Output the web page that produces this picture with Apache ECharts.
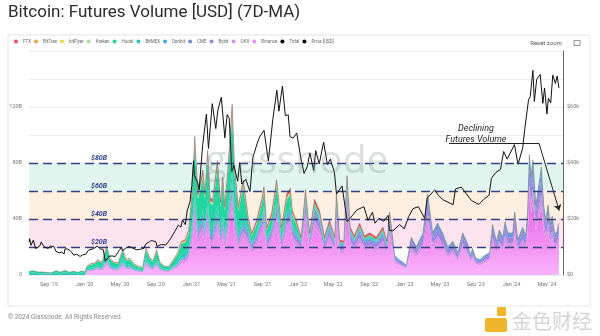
<!DOCTYPE html>
<html><head><meta charset="utf-8">
<script src="https://cdn.jsdelivr.net/npm/echarts@6/dist/echarts.min.js"></script>
<style>html,body{margin:0;padding:0;background:#fff}#c{width:600px;height:336px}</style>
</head><body><div id="c"></div>
<script>
// ---------- data (volumes in $B, price in $k) ----------
const dates = ['2019-06-25','2019-07-10','2019-07-25','2019-08-10','2019-08-25','2019-09-10','2019-09-26','2019-10-10','2019-10-27','2019-11-10','2019-11-25','2019-12-10','2019-12-20','2020-01-03',
'2020-01-08','2020-01-20','2020-02-05','2020-02-15','2020-03-01','2020-03-17','2020-03-28','2020-04-10','2020-04-25','2020-05-11','2020-05-22','2020-06-03','2020-06-18','2020-07-05','2020-07-18','2020-07-29','2020-08-10','2020-08-22','2020-09-04','2020-09-15','2020-10-01','2020-10-15','2020-10-28','2020-11-15','2020-11-27','2020-12-10','2020-12-22',
'2021-01-04','2021-01-12','2021-01-23','2021-02-09','2021-02-16','2021-02-25','2021-03-06','2021-03-14','2021-03-31','2021-04-10','2021-04-18','2021-04-25','2021-05-05','2021-05-20','2021-05-28','2021-06-10','2021-06-27',
'2021-07-14','2021-07-26','2021-08-12','2021-08-29','2021-09-06','2021-09-15','2021-10-02','2021-10-19','2021-11-05','2021-11-23','2021-12-05','2021-12-12','2021-12-25',
'2022-01-11','2022-01-26','2022-02-09','2022-02-26','2022-03-15','2022-04-01','2022-04-18','2022-05-06','2022-05-12','2022-05-23','2022-06-06','2022-06-17','2022-06-28','2022-07-12','2022-07-30','2022-08-16','2022-09-03','2022-09-25','2022-10-18','2022-11-01','2022-11-10',
'2022-11-27','2022-12-12','2022-12-26','2023-01-06','2023-01-23','2023-02-09','2023-03-04','2023-03-20','2023-04-06','2023-04-23','2023-05-10','2023-05-28','2023-06-14','2023-07-01','2023-07-18','2023-08-04','2023-08-14','2023-08-20','2023-09-01','2023-09-15','2023-10-01','2023-10-18','2023-10-28','2023-11-10','2023-11-20','2023-12-02','2023-12-10','2023-12-19','2024-01-05','2024-01-12','2024-01-22','2024-02-08','2024-02-19','2024-02-25','2024-03-02','2024-03-08','2024-03-14','2024-03-24','2024-04-02','2024-04-12','2024-04-20','2024-04-27','2024-05-05','2024-05-12','2024-05-19','2024-05-27','2024-06-03','2024-06-11'];

const binance = [0,0,0,0,0,0,0,0,0,0,0,0,0,0,
2.1,2.8,3.0,3.9,3.2,7.4,4.2,3.2,3.0,6.5,3.9,4.2,2.8,2.1,1.9,6.7,4.6,3.5,6.3,3.2,2.3,2.1,3.5,5.6,8.4,8.8,11.2,
23.6,37.6,22.0,28.5,22.0,33.8,20.9,20.5,31.2,19.8,26.6,18.6,28.5,46.4,29.6,18.6,25.8,
21.3,15.6,20.3,28.1,32.8,17.7,22.9,35.4,17.7,30.2,32.2,23.9,20.3,
16.7,37.8,18.6,33.5,28.5,16.7,24.2,16.7,36.6,15.5,14.9,44.0,21.1,17.4,22.9,17.4,18.6,16.7,21.1,14.9,27.9,
8.8,6.9,5.7,4.4,17.0,12.6,18.9,36.5,18.9,23.3,18.9,12.6,15.1,10.1,18.9,13.9,8.8,12.0,7.6,6.9,8.8,10.1,22.7,15.1,20.2,17.0,23.9,18.9,18.9,28.4,15.8,21.4,17.6,29.0,54.2,44.1,51.7,31.5,39.1,48.5,31.5,24.6,31.5,22.7,26.5,18.9,18.9,23.3];
const okx = [0,0,0,0,0,0,0,0,0,0,0,0,0,0,
0.5,0.6,0.7,0.9,0.7,1.7,1.0,0.7,0.7,1.5,0.9,1.0,0.6,0.5,0.4,1.5,1.0,0.8,1.4,0.7,0.5,0.5,0.8,1.3,1.9,2.0,2.6,
5.0,7.9,4.6,6.0,4.6,7.1,4.4,4.3,6.6,4.2,5.6,3.9,6.0,9.8,6.2,3.9,5.4,
4.1,3.0,3.9,5.4,6.3,3.4,4.4,6.8,3.4,5.8,6.2,4.6,3.9,
2.7,6.1,3.0,5.4,4.6,2.7,3.9,2.7,5.9,2.5,2.4,7.1,3.4,2.8,3.7,2.8,3.0,2.7,3.4,2.4,4.5,
1.7,1.3,1.1,0.8,3.2,2.4,3.6,7.0,3.6,4.4,3.6,2.4,2.9,1.9,3.6,2.6,1.7,2.3,1.4,1.3,1.7,1.9,4.3,2.9,3.8,3.2,4.6,3.6,3.6,5.4,3.0,4.1,3.4,5.5,10.3,8.4,9.8,6.0,7.4,9.2,6.0,4.7,6.0,4.3,5.0,3.6,3.6,4.4];
const bybit = [0,0,0,0,0,0,0,0,0,0,0,0,0,0,
0.2,0.2,0.3,0.3,0.3,0.6,0.4,0.3,0.3,0.6,0.3,0.4,0.2,0.2,0.2,0.6,0.4,0.3,0.5,0.3,0.2,0.2,0.3,0.5,0.7,0.8,1.0,
2.5,4.0,2.3,3.0,2.3,3.6,2.2,2.2,3.3,2.1,2.8,2.0,3.0,4.9,3.1,2.0,2.7,
2.5,1.8,2.3,3.2,3.8,2.0,2.6,4.1,2.0,3.5,3.7,2.8,2.3,
2.4,5.5,2.7,4.9,4.1,2.4,3.5,2.4,5.3,2.3,2.2,6.4,3.1,2.5,3.3,2.5,2.7,2.4,3.1,2.2,4.1,
2.0,1.5,1.3,1.0,3.8,2.8,4.2,8.1,4.2,5.2,4.2,2.8,3.4,2.2,4.2,3.1,2.0,2.7,1.7,1.5,2.0,2.2,5.0,3.4,4.5,3.8,5.3,4.2,4.2,6.3,3.5,4.8,3.9,6.4,12.0,9.8,11.5,7.0,8.7,10.8,7.0,5.5,7.0,5.0,5.9,4.2,4.2,5.2];
const cme = [0,0,0,0,0,0,0,0,0,0,0,0,0,0,
0.1,0.2,0.2,0.2,0.2,0.4,0.2,0.2,0.2,0.4,0.2,0.2,0.2,0.1,0.1,0.4,0.3,0.2,0.4,0.2,0.1,0.1,0.2,0.3,0.5,0.5,0.6,
1.2,2.0,1.2,1.5,1.2,1.8,1.1,1.1,1.6,1.0,1.4,1.0,1.5,2.4,1.6,1.0,1.4,
1.2,0.9,1.2,1.6,1.9,1.0,1.3,2.0,1.0,1.7,1.9,1.4,1.2,
1.1,2.4,1.2,2.2,1.8,1.1,1.6,1.1,2.4,1.0,1.0,2.8,1.4,1.1,1.5,1.1,1.2,1.1,1.4,1.0,1.8,
1.1,0.9,0.7,0.6,2.2,1.6,2.4,4.6,2.4,3.0,2.4,1.6,1.9,1.3,2.4,1.8,1.1,1.5,1.0,0.9,1.1,1.3,2.9,1.9,2.6,2.2,3.0,2.4,2.4,3.6,2.0,2.7,2.2,3.7,6.9,5.6,6.6,4.0,5.0,6.2,4.0,3.1,4.0,2.9,3.4,2.4,2.4,3.0];
const deribit = [0,0,0,0,0,0,0,0,0,0,0,0,0,0,
0.2,0.2,0.3,0.3,0.3,0.6,0.4,0.3,0.3,0.6,0.3,0.4,0.2,0.2,0.2,0.6,0.4,0.3,0.5,0.3,0.2,0.2,0.3,0.5,0.7,0.8,1.0,
1.9,3.0,1.7,2.3,1.7,2.7,1.7,1.6,2.5,1.6,2.1,1.5,2.3,3.7,2.3,1.5,2.0,
1.2,0.9,1.2,1.6,1.9,1.0,1.3,2.0,1.0,1.7,1.9,1.4,1.2,
0.8,1.8,0.9,1.6,1.4,0.8,1.2,0.8,1.8,0.8,0.7,2.1,1.0,0.8,1.1,0.8,0.9,0.8,1.0,0.7,1.4,
0.4,0.3,0.3,0.2,0.8,0.6,0.9,1.7,0.9,1.1,0.9,0.6,0.7,0.5,0.9,0.7,0.4,0.6,0.4,0.3,0.4,0.5,1.1,0.7,1.0,0.8,1.1,0.9,0.9,1.4,0.8,1.0,0.8,1.4,2.6,2.1,2.5,1.5,1.9,2.3,1.5,1.2,1.5,1.1,1.3,0.9,0.9,1.1];
const bitmex = [1.5,1.8,1.3,1.3,1.1,1.0,1.8,1.2,1.9,1.2,1.6,1.1,1.7,1.3,
0.7,1.0,1.0,1.3,1.1,2.5,1.4,1.1,1.0,2.2,1.3,1.4,1.0,0.7,0.7,2.3,1.6,1.2,2.2,1.1,0.8,0.7,1.2,1.9,2.9,3.0,3.8,
3.7,5.9,3.5,4.5,3.5,5.3,3.3,3.2,4.9,3.1,4.2,2.9,4.5,7.3,4.7,2.9,4.1,
1.6,1.2,1.6,2.2,2.5,1.4,1.8,2.7,1.4,2.3,2.5,1.8,1.6,
0.5,1.2,0.6,1.1,0.9,0.5,0.8,0.5,1.2,0.5,0.5,1.4,0.7,0.6,0.7,0.6,0.6,0.5,0.7,0.5,0.9,
0,0,0,0,0,0,0,0,0,0,0,0,0,0,0,0,0,0,0,0,0,0,0,0,0,0,0,0,0,0,0,0,0,0,0,0,0,0,0,0,0,0,0,0,0,0,0,0];
const huobi = [1.0,1.2,0.9,0.9,0.7,0.6,1.2,0.8,1.3,0.8,1.0,0.7,1.1,0.9,
1.8,2.4,2.5,3.3,2.7,6.3,3.6,2.7,2.5,5.5,3.3,3.6,2.4,1.8,1.7,5.7,3.9,3.0,5.4,2.7,2.0,1.8,3.0,4.8,7.2,7.5,9.6,
19.8,31.7,18.6,24.0,18.6,28.5,17.6,17.3,26.2,16.6,22.4,15.7,24.0,39.0,25.0,15.7,21.8,
6.2,4.5,5.9,8.1,9.5,5.1,6.6,10.2,5.1,8.7,9.3,6.9,5.9,
1.1,2.4,1.2,2.2,1.8,1.1,1.6,1.1,2.4,1.0,1.0,2.8,1.4,1.1,1.5,1.1,1.2,1.1,1.4,1.0,1.8,
0,0,0,0,0,0,0,0,0,0,0,0,0,0,0,0,0,0,0,0,0,0,0,0,0,0,0,0,0,0,0,0,0,0,0,0,0,0,0,0,0,0,0,0,0,0,0,0];
const kraken = [0,0,0,0,0,0,0,0,0,0,0,0,0,0,
0.1,0.1,0.1,0.1,0.1,0.2,0.1,0.1,0.1,0.2,0.1,0.1,0.1,0.1,0.1,0.2,0.1,0.1,0.2,0.1,0.1,0.1,0.1,0.2,0.2,0.3,0.3,
0.6,1.0,0.6,0.8,0.6,0.9,0.6,0.5,0.8,0.5,0.7,0.5,0.8,1.2,0.8,0.5,0.7,
0.4,0.3,0.4,0.5,0.6,0.3,0.4,0.7,0.3,0.6,0.6,0.5,0.4,
0.1,0.3,0.2,0.3,0.2,0.1,0.2,0.1,0.3,0.1,0.1,0.4,0.2,0.1,0.2,0.1,0.2,0.1,0.2,0.1,0.2,
0,0,0,0,0,0,0,0,0,0,0,0,0,0,0,0,0,0,0,0,0,0,0,0,0,0,0,0,0,0,0,0,0,0,0,0,0,0,0,0,0,0,0,0,0,0,0,0];
const bitflyer = [0,0,0,0,0,0,0,0,0,0,0,0,0,0,
0.2,0.2,0.3,0.3,0.3,0.6,0.4,0.3,0.3,0.5,0.3,0.4,0.2,0.2,0.1,0.5,0.3,0.3,0.5,0.2,0.1,0.1,0.3,0.5,0.7,0.7,1.0,
0.6,1.0,0.6,0.8,0.6,0.9,0.6,0.5,0.8,0.5,0.7,0.5,0.8,1.2,0.8,0.5,0.7,
0.4,0.3,0.4,0.5,0.6,0.3,0.4,0.7,0.3,0.6,0.6,0.5,0.4,
0.1,0.3,0.2,0.3,0.2,0.1,0.2,0.1,0.3,0.1,0.1,0.4,0.2,0.1,0.2,0.1,0.2,0.1,0.2,0.1,0.2,
0,0,0,0,0,0,0,0,0,0,0,0,0,0,0,0,0,0,0,0,0,0,0,0,0,0,0,0,0,0,0,0,0,0,0,0,0,0,0,0,0,0,0,0,0,0,0,0];
const bittrex = [0,0,0,0,0,0,0,0,0,0,0,0,0,0,
0.1,0.1,0.1,0.1,0.1,0.2,0.1,0.1,0.1,0.2,0.1,0.1,0.1,0.1,0.1,0.2,0.1,0.1,0.2,0.1,0.1,0.1,0.1,0.2,0.2,0.3,0.3,
0.6,1.0,0.6,0.8,0.6,0.9,0.6,0.5,0.8,0.5,0.7,0.5,0.8,1.2,0.8,0.5,0.7,
0.4,0.3,0.4,0.5,0.6,0.3,0.4,0.7,0.3,0.6,0.6,0.5,0.4,
0,0,0,0,0,0,0,0,0,0,0,0,0,0,0,0,0,0,0,0,0,
0,0,0,0,0,0,0,0,0,0,0,0,0,0,0,0,0,0,0,0,0,0,0,0,0,0,0,0,0,0,0,0,0,0,0,0,0,0,0,0,0,0,0,0,0,0,0,0];
const ftx = [0,0,0,0,0,0,0,0,0,0,0,0,0,0,
0.1,0.2,0.2,0.2,0.2,0.4,0.2,0.2,0.2,0.4,0.2,0.2,0.2,0.1,0.1,0.4,0.3,0.2,0.4,0.1,0.1,0.1,0.2,0.3,0.5,0.5,0.6,
2.5,4.0,2.3,3.0,2.3,3.6,2.2,2.2,3.3,2.1,2.8,2.0,3.0,4.9,3.1,2.0,2.7,
1.6,1.2,1.6,2.2,2.5,1.4,1.8,2.7,1.4,2.3,2.5,1.8,1.6,
1.4,3.1,1.5,2.7,2.3,1.4,2.0,1.4,3.0,1.3,1.2,3.6,1.7,1.4,1.9,1.4,1.5,1.4,1.7,1.2,2.3,
0,0,0,0,0,0,0,0,0,0,0,0,0,0,0,0,0,0,0,0,0,0,0,0,0,0,0,0,0,0,0,0,0,0,0,0,0,0,0,0,0,0,0,0,0,0,0,0];
const total = [2.5,3,2.2,2.2,1.8,1.6,3,2,3.2,2,2.6,1.8,2.8,2.2,
6,8,8.5,11,9,21,12,9,8.5,18.5,11,12,8,6,5.5,19,13,10,18,9,6.5,6,10,16,24,25,32,
62,99,58,75,58,89,55,54,82,52,70,49,75,122,78,49,68,
41,30,39,54,63,34,44,68,34,58,62,46,39,
27,61,30,54,46,27,39,27,59,25,24,71,34,28,37,28,30,27,34,24,45,
14,11,9,7,27,20,30,58,30,37,30,20,24,16,30,22,14,19,12,11,14,16,36,24,32,27,38,30,30,45,25,34,28,46,86,70,82,50,62,77,50,39,50,36,42,30,30,37];

const priceDates = ['2019-06-25','2019-06-27','2019-07-02','2019-07-10','2019-07-17','2019-07-24','2019-08-01','2019-08-06','2019-08-15','2019-08-21','2019-08-29','2019-09-06','2019-09-18','2019-09-25','2019-10-06','2019-10-15','2019-10-23','2019-10-26','2019-11-05','2019-11-15','2019-11-25','2019-12-05','2019-12-17','2019-12-25',
'2020-01-05','2020-01-14','2020-01-20','2020-02-01','2020-02-13','2020-02-25','2020-03-05','2020-03-12','2020-03-16','2020-03-25','2020-04-05','2020-04-15','2020-04-29','2020-05-07','2020-05-10','2020-05-20','2020-06-01','2020-06-10','2020-06-27','2020-07-10','2020-07-22','2020-07-28','2020-08-10','2020-08-17','2020-09-01','2020-09-05','2020-09-20','2020-10-05','2020-10-21','2020-11-05','2020-11-17','2020-11-26','2020-12-01','2020-12-11','2020-12-17','2020-12-27',
'2021-01-02','2021-01-08','2021-01-11','2021-01-22','2021-01-27','2021-02-08','2021-02-21','2021-02-28','2021-03-13','2021-03-25','2021-04-01','2021-04-13','2021-04-25','2021-05-03','2021-05-10','2021-05-19','2021-05-26','2021-06-08','2021-06-15','2021-06-22','2021-07-06','2021-07-20','2021-07-30','2021-08-14','2021-08-22','2021-09-06','2021-09-21','2021-10-06','2021-10-20','2021-10-27','2021-11-08','2021-11-18','2021-11-28','2021-12-04','2021-12-15','2021-12-27',
'2022-01-10','2022-01-21','2022-02-01','2022-02-10','2022-02-23','2022-03-02','2022-03-14','2022-03-29','2022-04-11','2022-04-21','2022-05-05','2022-05-12','2022-05-31','2022-06-13','2022-06-18','2022-07-08','2022-07-20','2022-08-14','2022-08-28','2022-09-12','2022-09-21','2022-10-05','2022-10-20','2022-11-05','2022-11-09','2022-11-21','2022-12-14','2022-12-30',
'2023-01-14','2023-01-29','2023-02-16','2023-03-10','2023-03-18','2023-04-13','2023-04-26','2023-05-11','2023-06-15','2023-06-23','2023-07-13','2023-07-28','2023-08-17','2023-09-11','2023-09-28','2023-10-16','2023-10-24','2023-11-09','2023-11-24','2023-12-05','2023-12-17',
'2024-01-11','2024-01-23','2024-02-08','2024-02-15','2024-02-28','2024-03-05','2024-03-14','2024-03-19','2024-03-27','2024-04-08','2024-04-17','2024-04-23','2024-05-01','2024-05-06','2024-05-14','2024-05-21','2024-05-30','2024-06-05','2024-06-11'];
const priceValues = [11.8,13.0,10.6,12.5,9.5,9.8,10.4,11.8,10.1,10.1,9.5,10.3,10.2,8.5,7.9,8.2,7.5,9.3,9.3,8.5,7.1,7.4,6.6,7.2,
7.4,8.8,8.6,9.4,10.3,9.3,9.1,4.9,5.0,6.7,6.8,6.6,8.8,9.9,8.7,9.5,10.2,9.8,9.0,9.2,9.5,11.0,11.9,12.3,11.9,10.2,10.9,10.7,12.9,15.6,17.8,17.1,19.7,18.0,22.8,26.3,
32.0,40.8,35.5,33.0,30.4,46.2,57.5,45.2,61.2,52.3,58.8,63.5,49.0,57.3,56.0,37.0,39.2,33.5,40.1,32.5,34.2,29.8,42.0,47.1,49.3,51.7,40.7,55.4,66.0,58.5,67.5,56.9,57.2,49.4,48.9,50.7,
41.8,36.3,38.7,43.6,37.3,44.4,39.7,47.4,39.5,41.4,36.6,28.9,31.8,22.5,19.0,21.6,23.2,24.4,19.5,22.4,18.5,20.3,19.1,21.3,15.9,15.8,18.0,16.5,
20.9,23.7,24.4,20.2,27.4,30.4,28.4,26.9,25.1,30.7,31.4,29.3,26.6,25.2,27.0,28.5,34.5,36.7,37.7,44.1,41.4,
46.6,39.5,45.3,52.0,62.5,63.8,73.1,62.0,69.9,71.6,61.3,66.8,57.5,63.1,61.5,71.4,68.4,71.1,66.8];

const xTickDates = ['2019-09-01','2020-01-01','2020-05-01','2020-09-01','2021-01-01','2021-05-01','2021-09-01','2022-01-01','2022-05-01','2022-09-01','2023-01-01','2023-05-01','2023-09-01','2024-01-01','2024-05-01'];
const xTickLabels = ["Sep '19","Jan '20","May '20","Sep '20","Jan '21","May '21","Sep '21","Jan '22","May '22","Sep '22","Jan '23","May '23","Sep '23","Jan '24","May '24"];
const xRange = ['2019-06-25','2024-06-25'];
const levelValues = [80,60,40,20];
const levelLabels = ['$80B','$60B','$40B','$20B'];
const annotation = {start:['2023-06-01',94], corner:['2024-04-04',94], end:['2024-06-12',46]};

// ---------- chart ----------
const T = s => Date.parse(s + 'T00:00:00Z');
const tickVals = xTickDates.map(T);
const pair = arr => dates.map((d,i)=>[T(d),arr[i]]);

const stackDefs = [
  ['Binance', binance, '#ee92ef'],
  ['OKX', okx, '#dc8fe8'],
  ['Bybit', bybit, '#9a86e2'],
  ['CME', cme, '#6f8fd8'],
  ['Deribit', deribit, '#45aed8'],
  ['BitMEX', bitmex, '#2ec9bd'],
  ['Huobi', huobi, '#22d6a0'],
  ['Kraken', kraken, '#a9e6a0'],
  ['bitFlyer', bitflyer, '#f2d24c'],
  ['BitTrex', bittrex, '#f5a34f'],
  ['FTX', ftx, '#e8505a']
];

const series = [];
series.push({
  type:'line', name:'bands', data:[[T(dates[0]),0]], symbol:'none', lineStyle:{width:0}, z:1, silent:true,
  markArea:{silent:true, data:[
    [{yAxis:levelValues[3], itemStyle:{color:'#fde3ee'}},{yAxis:levelValues[2]}],
    [{yAxis:levelValues[2], itemStyle:{color:'#fdf0e1'}},{yAxis:levelValues[1]}],
    [{yAxis:levelValues[1], itemStyle:{color:'#e1f5ef'}},{yAxis:levelValues[0]}]
  ]}
});
stackDefs.forEach(([name,arr,color])=>{
  const s = {type:'line', name, data:pair(arr), stack:'vol', symbol:'none', showSymbol:false,
    lineStyle:{width:0}, itemStyle:{color}, areaStyle:{color, opacity:1}, z:2, silent:true};
  if (name==='Binance') {
    s.areaStyle = {opacity:1, color:new echarts.graphic.LinearGradient(0,0,0,1,[{offset:0,color:'#e565e8'},{offset:0.55,color:'#f08cf1'},{offset:1,color:'#fab4fa'}])};
  }
  series.push(s);
});
series.push({type:'line', name:'Total', data:pair(total), symbol:'none', lineStyle:{width:0.6,color:'#666',opacity:0.8}, itemStyle:{color:'#000'}, z:3, silent:true});
series.push({
  type:'line', name:'levels', data:[[T(dates[0]),0]], symbol:'none', lineStyle:{width:0}, z:4, silent:true,
  markLine:{silent:true, symbol:['none','none'], animation:false,
    lineStyle:{color:'#33427f', width:1.3, type:[9,5]},
    label:{position:'insideStartTop', distance:[62,1], color:'#2f3d8f', fontSize:7, fontStyle:'italic', fontWeight:'bold', fontFamily:'Roboto'},
    data: levelValues.map((v,i)=>({yAxis:v, label:{formatter:levelLabels[i]}}))
  }
});
series.push({type:'line', name:'Price [USD]', yAxisIndex:1, data:priceDates.map((d,i)=>[T(d),priceValues[i]]), symbol:'none', lineStyle:{width:1,color:'#111'}, itemStyle:{color:'#000'}, z:6, silent:true});
series.push({
  type:'line', name:'annot', data:[[T(dates[0]),0]], symbol:'none', lineStyle:{width:0}, z:7, silent:true,
  markLine:{silent:true, animation:false, lineStyle:{color:'#222', width:1, type:'solid'}, label:{show:false}, symbolSize:6,
    data:[
      [{coord:[T(annotation.start[0]),annotation.start[1]], symbol:'none'},{coord:[T(annotation.corner[0]),annotation.corner[1]], symbol:'none'}],
      [{coord:[T(annotation.corner[0]),annotation.corner[1]], symbol:'none'},{coord:[T(annotation.end[0]),annotation.end[1]], symbol:'arrow'}]
    ]}
});

const chart = echarts.init(document.getElementById('c'), null, {renderer:'canvas'});
chart.setOption({
  animation:false,
  backgroundColor:'#fff',
  textStyle:{fontFamily:'Roboto'},
  graphic:[
    {type:'rect', shape:{x:8,y:35,width:582,height:271}, style:{fill:'#fff', stroke:'#e4e4e4', lineWidth:1}, z:-10},
    {type:'text', left:8, top:4, style:{text:'Bitcoin: Futures Volume [USD] (7D-MA)', fontSize:17, fontFamily:'Roboto', fill:'#2b2b2b'}},
    {type:'text', x:546, y:43, style:{text:'Reset zoom', fontSize:6, fill:'#555', align:'center', verticalAlign:'middle', fontFamily:'Roboto'}, z:10},
    {type:'rect', shape:{x:574,y:40.5,width:6,height:5}, style:{fill:'none', stroke:'#777', lineWidth:0.8}, z:10},
    {type:'text', x:297, y:162, style:{text:'glassnode', fontSize:39, fontFamily:'Open Sans', fontWeight:400, fill:'rgba(110,120,120,0.24)', align:'center', verticalAlign:'middle'}, z:100, silent:true},
    {type:'text', x:476, y:129, style:{text:'Declining', fontSize:9, fontStyle:'italic', fontFamily:'Roboto', fill:'#222', align:'center', verticalAlign:'middle'}, z:100},
    {type:'text', x:476, y:139.5, style:{text:'Futures Volume', fontSize:9, fontStyle:'italic', fontFamily:'Roboto', fill:'#222', align:'center', verticalAlign:'middle'}, z:100},
    {type:'text', left:8, top:314, style:{text:'© 2024 Glassnode. All Rights Reserved.', fontSize:6.5, fill:'#888', fontFamily:'Roboto'}},
    {type:'rect', shape:{x:485,y:318,width:22,height:14,r:2}, style:{fill:'#f1b52b'}},
    {type:'rect', shape:{x:497,y:307,width:9,height:9,r:1}, style:{fill:'#f1b52b'}},
    {type:'text', x:552, y:321, style:{text:'金色财经', fontSize:20, fontFamily:'Noto Sans CJK SC', fill:'#d4d4d4', align:'center', verticalAlign:'middle'}}
  ],
  legend:{
    data:['FTX','BitTrex','bitFlyer','Kraken','Huobi','BitMEX','Deribit','CME','Bybit','OKX','Binance','Total','Price [USD]'],
    left:14, top:39, padding:0, icon:'circle', itemWidth:4, itemHeight:4, itemGap:3,
    textStyle:{fontSize:4.5, color:'#666', fontFamily:'Roboto'}, selectedMode:false
  },
  grid:{left:29, right:37, top:51, bottom:61},
  xAxis:[
    {type:'time', min:T(xRange[0]), max:T(xRange[1]), show:false},
    {type:'value', min:T(xRange[0]), max:T(xRange[1]), position:'bottom',
      axisLine:{show:false}, axisTick:{show:false}, splitLine:{show:false},
      axisLabel:{customValues:tickVals, fontSize:5.5, color:'#777', margin:7, hideOverlap:false,
        formatter:(v)=>{const i=tickVals.indexOf(v); return i>=0?xTickLabels[i]:'';}}
    }
  ],
  yAxis:[
    {type:'value', min:0, max:160, interval:20, position:'left',
      axisLine:{show:false}, axisTick:{show:false},
      splitLine:{lineStyle:{color:'#ececec', width:1}},
      axisLabel:{fontSize:5.5, color:'#777', margin:7, formatter:(v)=> v===0?'0':(v%40===0 && v<160? v+'B':'')}
    },
    {type:'value', min:0, max:80, interval:20, position:'right',
      axisLine:{show:true, lineStyle:{color:'#666', width:1}}, axisTick:{show:false}, splitLine:{show:false},
      axisLabel:{fontSize:5.5, color:'#777', margin:4, formatter:(v)=> v===0?'$0':(v<80? '$'+v+'k':'')}
    }
  ],
  series
});
</script></body></html>
